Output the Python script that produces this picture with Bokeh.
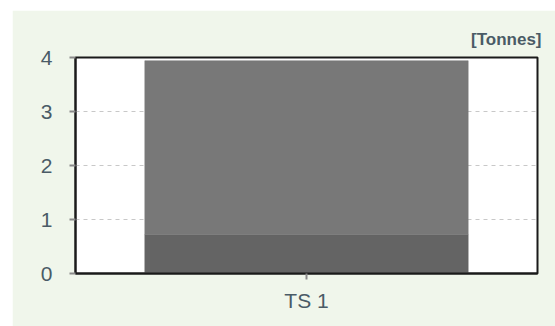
from bokeh.plotting import figure
from bokeh.models import ColumnDataSource, FactorRange
from bokeh.embed import file_html
from bokeh.resources import INLINE

categories = ["TS 1"]
series_bottom = [0.72]
series_top = [3.22]
y_ticks = [0, 1, 2, 3, 4]

src = ColumnDataSource(dict(cat=categories, bottom=series_bottom, top=series_top))

p = figure(x_range=FactorRange(*categories), y_range=(0, 4),
           width=543, height=316, output_backend="svg", toolbar_location=None,
           min_border_left=63, min_border_right=18, min_border_top=47, min_border_bottom=53,
           margin=(10, 0, 0, 12), title="[Tonnes]")
p.background_fill_color = "white"
p.border_fill_color = "#f0f6eb"
p.outline_line_color = "#1a1a1a"
p.outline_line_width = 2

p.vbar_stack(["bottom", "top"], x="cat", width=0.7, source=src,
             color=["#646464", "#787878"], line_width=0.5)

p.title.align = "right"
p.title.text_font = "Liberation Sans"
p.title.text_font_size = "17px"
p.title.text_font_style = "bold"
p.title.text_color = "#4a5b66"
p.title.standoff = 17
p.title.offset = -4

for ax in (p.xaxis, p.yaxis):
    ax.axis_line_color = "#1a1a1a"
    ax.axis_line_width = 2
    ax.major_tick_line_color = "#8a8a8a"
    ax.major_tick_line_width = 2
    ax.major_tick_out = 6
    ax.major_tick_in = 0
    ax.minor_tick_line_color = None
    ax.major_label_text_font = "Liberation Sans"
    ax.major_label_text_font_size = "21px"
    ax.major_label_text_color = "#4a5b66"

p.yaxis.ticker = y_ticks
p.yaxis.major_label_standoff = 17
p.xaxis.major_label_standoff = 9

p.xgrid.grid_line_color = None
p.ygrid.grid_line_color = "#c8c8c8"
p.ygrid.grid_line_dash = "4 4"
p.ygrid.grid_line_width = 1

open("out.html", "w").write(file_html(p, INLINE))
